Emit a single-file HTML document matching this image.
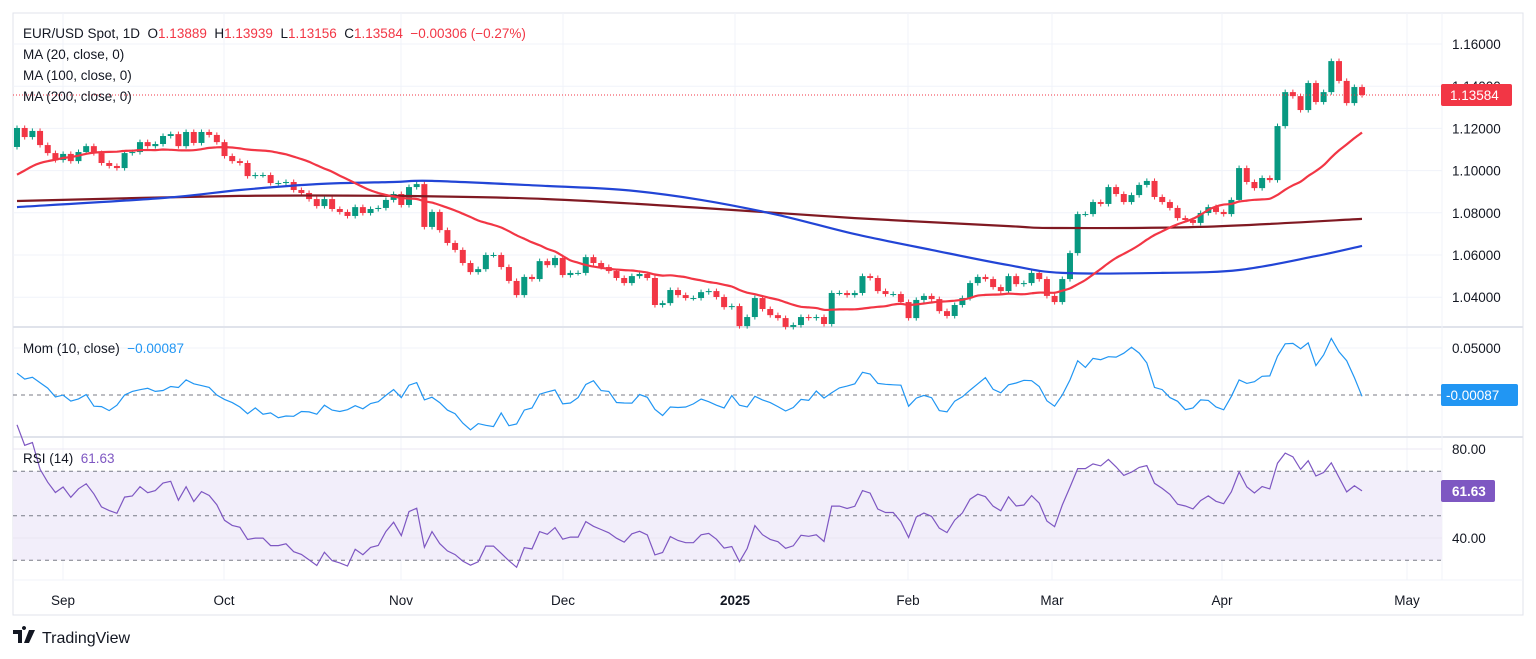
<!DOCTYPE html>
<html><head><meta charset="utf-8"><style>
body{margin:0;background:#fff;font-family:"Liberation Sans",sans-serif;}
svg{display:block}
</style></head><body>
<svg id="c" width="1536" height="659" xmlns="http://www.w3.org/2000/svg" font-family="Liberation Sans, sans-serif"></svg>
<script>
// ---- data ----
const priorCloses=[1.0760,1.0780,1.0830,1.0900,1.0910,1.0920,1.0950,1.0960,1.0940,1.0970,1.0990,1.1000,1.0990,1.1010,1.1070,1.1080,1.1110,1.1130,1.1112];
const closes=[1.1202,1.1159,1.1188,1.1121,1.1083,1.1050,1.1079,1.1045,1.1088,1.1116,
1.1083,1.1036,1.1022,1.1012,1.1083,1.1088,1.1135,1.1116,1.1126,1.1164,
1.1173,1.1116,1.1183,1.1131,1.1183,1.1169,1.1135,1.1069,1.1045,1.1036,
1.0974,1.0979,1.0979,1.0941,1.0941,1.0946,1.0908,1.0894,1.0865,1.0832,
1.0865,1.0818,1.0804,1.0785,1.0827,1.0799,1.0818,1.0823,1.0861,1.0889,
1.0837,1.0922,1.0936,1.0733,1.0804,1.0718,1.0657,1.0624,1.0562,1.0519,
1.0533,1.0600,1.0600,1.0543,1.0477,1.0410,1.0496,1.0486,1.0571,1.0552,
1.0586,1.0505,1.0515,1.0515,1.0590,1.0562,1.0543,1.0524,1.0491,1.0467,
1.0500,1.0510,1.0491,1.0363,1.0372,1.0434,1.0410,1.0396,1.0396,1.0424,
1.0429,1.0401,1.0353,1.0358,1.0263,1.0306,1.0396,1.0344,1.0315,1.0301,
1.0259,1.0268,1.0306,1.0301,1.0306,1.0273,1.0420,1.0420,1.0410,1.0420,
1.0500,1.0491,1.0429,1.0415,1.0415,1.0377,1.0301,1.0387,1.0406,1.0391,
1.0334,1.0311,1.0363,1.0396,1.0467,1.0496,1.0486,1.0448,1.0429,1.0500,
1.0462,1.0467,1.0515,1.0486,1.0406,1.0377,1.0486,1.0609,1.0794,1.0794,
1.0851,1.0842,1.0922,1.0889,1.0851,1.0884,1.0932,1.0951,1.0875,1.0851,
1.0823,1.0775,1.0766,1.0752,1.0799,1.0827,1.0804,1.0794,1.0861,1.1012,
1.0946,1.0917,1.0965,1.0955,1.1211,1.1372,1.1353,1.1287,1.1415,1.1325,
1.1372,1.1519,1.1425,1.1320,1.1396,1.1358];
const ma100Idx=[0,19,29,39,49,54,69,79,89,99,109,119,129,136,149,159,169,175];
const ma100Val=[1.0827,1.0870,1.0908,1.0936,1.0946,1.0951,1.0927,1.0908,1.0861,1.0790,1.0699,1.0624,1.0552,1.0515,1.0515,1.0529,1.0595,1.0643];
const ma200Idx=[0,29,49,69,89,109,129,135,154,175];
const ma200Val=[1.0856,1.0880,1.0880,1.0865,1.0823,1.0775,1.0737,1.0728,1.0733,1.0771];
const priceTicks=[1.16,1.14,1.12,1.10,1.08,1.06,1.04];
const momTicks=[0.05];
const rsiTicks=[80,40];
const monthLabels=["Sep","Oct","Nov","Dec","2025","Feb","Mar","Apr","May"];
const monthX=[63,224,401,563,735,908,1052,1222,1407];
const lastLabels=["1.13584","-0.00087","61.63"];

// ---- geometry ----
const svg=document.getElementById('c');
const NS="http://www.w3.org/2000/svg";
const L=13,R=1442;
const X0=17,DX=7.686;
const xi=i=>X0+i*DX;
const yP=p=>44+(1.16-p)*2110;
const yM=v=>395-v*940;
const yR=v=>449+(80-v)*2.225;
function mk(tag,attrs,parent){const e=document.createElementNS(NS,tag);for(const k in attrs)e.setAttribute(k,attrs[k]);(parent||svg).appendChild(e);return e;}
function txt(s,x,y,attrs){const e=mk('text',Object.assign({x:x,y:y},attrs||{}));e.textContent=s;return e;}

let f=mk('rect',{x:L,y:13,width:1510,height:602,fill:'none',stroke:'#e0e3eb'});


monthX.forEach(x=>{let g=mk('line',{x1:x,x2:x,y1:13,y2:580,stroke:'#f0f3fa'});

});
priceTicks.forEach(p=>{let g=mk('line',{x1:L,x2:R,y1:yP(p),y2:yP(p),stroke:'#f0f3fa'});

});
[327,437].forEach(y=>{let s=mk('line',{x1:L,x2:1523,y1:y,y2:y,stroke:'#e0e3eb','stroke-width':2});

});
mk('line',{x1:R,x2:R,y1:13,y2:580,stroke:'#f0f3fa'});
mk('line',{x1:L,x2:1523,y1:580,y2:580,stroke:'#f0f3fa'});

// candles
const opens=[priorCloses[priorCloses.length-1]].concat(closes.slice(0,-1));
const cg=mk('g',{});


closes.forEach((c,i)=>{
  const o=opens[i];const up=c>=o;const col=up?'#089981':'#f23645';
  const hi=Math.max(o,c)+0.0012,lo=Math.min(o,c)-0.0012;
  const x=xi(i);
  let w=mk('line',{x1:x,x2:x,y1:yP(hi),y2:yP(lo),stroke:col,'stroke-width':1},cg);
  
  
  const t=yP(Math.max(o,c)),b=yP(Math.min(o,c));
  let r=mk('rect',{x:x-3,y:t,width:6,height:Math.max(1,b-t),fill:col},cg);
  
  
});
function path(pts){return pts.map((p,k)=>(k?'L':'M')+p[0].toFixed(1)+','+p[1].toFixed(1)).join('');}
function smooth(p){let d='M'+p[0][0].toFixed(1)+','+p[0][1].toFixed(1);
 for(let i=0;i<p.length-1;i++){const p0=p[i-1]||p[i],p1=p[i],p2=p[i+1],p3=p[i+2]||p2;
  const c1=[p1[0]+(p2[0]-p0[0])/6,p1[1]+(p2[1]-p0[1])/6],c2=[p2[0]-(p3[0]-p1[0])/6,p2[1]-(p3[1]-p1[1])/6];
  d+='C'+c1[0].toFixed(1)+','+c1[1].toFixed(1)+' '+c2[0].toFixed(1)+','+c2[1].toFixed(1)+' '+p2[0].toFixed(1)+','+p2[1].toFixed(1);}
 return d;}
const all=priorCloses.concat(closes);const P=priorCloses.length;
const ma20=[];closes.forEach((c,i)=>{const j=i+P;const s=all.slice(Math.max(0,j-19),j+1);ma20.push([xi(i),yP(s.reduce((a,b)=>a+b,0)/s.length)]);});
let m1=mk('path',{d:smooth(ma200Idx.map((k,n)=>[xi(k),yP(ma200Val[n])])),fill:'none',stroke:'#801922','stroke-width':2.2});


let m2=mk('path',{d:smooth(ma100Idx.map((k,n)=>[xi(k),yP(ma100Val[n])])),fill:'none',stroke:'#2245d6','stroke-width':2.2});


let m3=mk('path',{d:smooth(ma20),fill:'none',stroke:'#f23645','stroke-width':2.2});


const lc=closes[closes.length-1];
let dl=mk('line',{x1:L,x2:R,y1:yP(lc),y2:yP(lc),stroke:'#f23645','stroke-dasharray':'1,2'});


priceTicks.forEach(p=>{let t=txt(p.toFixed(5),1452,yP(p)+5,{'font-size':13.5,fill:'#131722'});

});
let pl=mk('rect',{x:1441,y:yP(lc)-11,width:71,height:22,fill:'#f23645',rx:2});


txt(lastLabels[0],1450,yP(lc)+5,{'font-size':13.5,fill:'#fff'});

// momentum
let zl=mk('line',{x1:L,x2:R,y1:yM(0),y2:yM(0),stroke:'#787b86','stroke-dasharray':'4,4'});


mk('line',{x1:L,x2:R,y1:yM(0.05),y2:yM(0.05),stroke:'#f0f3fa'});
const mom=closes.map((c,i)=>[xi(i),yM(c-all[i+P-10])]);
let mp=mk('path',{d:path(mom),fill:'none',stroke:'#2196f3','stroke-width':1.2});


momTicks.forEach(v=>{txt(v.toFixed(5),1452,yM(v)+5,{'font-size':13.5,fill:'#131722'});});
let ml=mk('rect',{x:1441,y:384,width:77,height:22,fill:'#2196f3',rx:2});


txt(lastLabels[1],1446,400,{'font-size':13.5,fill:'#fff'});

// RSI
let band=mk('rect',{x:L,y:yR(70),width:R-L,height:yR(30)-yR(70),fill:'#f2eefa'});


rsiTicks.forEach(v=>mk('line',{x1:L,x2:R,y1:yR(v),y2:yR(v),stroke:'#ebe7f3'}));
[70,50,30].forEach(v=>{let d=mk('line',{x1:L,x2:R,y1:yR(v),y2:yR(v),stroke:'#787b86','stroke-dasharray':'4,4'});

});
let ag=0,al=0;const rsi=[];
for(let j=1;j<all.length;j++){const d=all[j]-all[j-1];const g=Math.max(d,0),l=Math.max(-d,0);
 if(j<=14){ag+=g/14;al+=l/14;}else{ag=(ag*13+g)/14;al=(al*13+l)/14;}
 if(j>=P){const rs=al===0?100:100-100/(1+ag/al);rsi.push([xi(j-P),yR(rs)]);}}
let rp=mk('path',{d:path(rsi),fill:'none',stroke:'#7e57c2','stroke-width':1.2});


rsiTicks.forEach(v=>{txt(v.toFixed(2),1452,yR(v)+5,{'font-size':13.5,fill:'#131722'});});
let rl=mk('rect',{x:1441,y:480,width:54,height:22,fill:'#7e57c2',rx:2});


txt(lastLabels[2],1452,496,{'font-size':13.5,fill:'#fff','font-weight':'bold'});

monthLabels.forEach((m,k)=>{let t=txt(m,monthX[k],605,{'font-size':13.5,fill:'#131722','text-anchor':'middle','font-weight':m==='2025'?'bold':'normal'});

});

let h=txt('',23,38,{'font-size':13.5,fill:'#131722'});


h.innerHTML='EUR/USD Spot, 1D  O<tspan fill="#f23645">1.13889</tspan>  H<tspan fill="#f23645">1.13939</tspan>  L<tspan fill="#f23645">1.13156</tspan>  C<tspan fill="#f23645">1.13584  −0.00306 (−0.27%)</tspan>';
h.style.whiteSpace='pre';
['MA (20, close, 0)','MA (100, close, 0)','MA (200, close, 0)'].forEach((s,k)=>{let t=txt(s,23,59+k*21,{'font-size':13.5,fill:'#131722'});

});
let mt=txt('',23,353,{'font-size':13.5,fill:'#131722'});


mt.innerHTML='Mom (10, close)  <tspan fill="#2196f3">−0.00087</tspan>';mt.style.whiteSpace='pre';
let rt=txt('',23,463,{'font-size':13.5,fill:'#131722'});


rt.innerHTML='RSI (14)  <tspan fill="#7e57c2">61.63</tspan>';rt.style.whiteSpace='pre';
let lg=mk('g',{});


mk('path',{d:'M13 630h9v13h-4v-9h-5z M24 630a2 2 0 1 1 0.01 0 M29 630h6l-6 13h-5z',fill:'#131722'},lg);
txt('TradingView',42,643,{'font-size':16,fill:'#131722'});
</script>
</body></html>
